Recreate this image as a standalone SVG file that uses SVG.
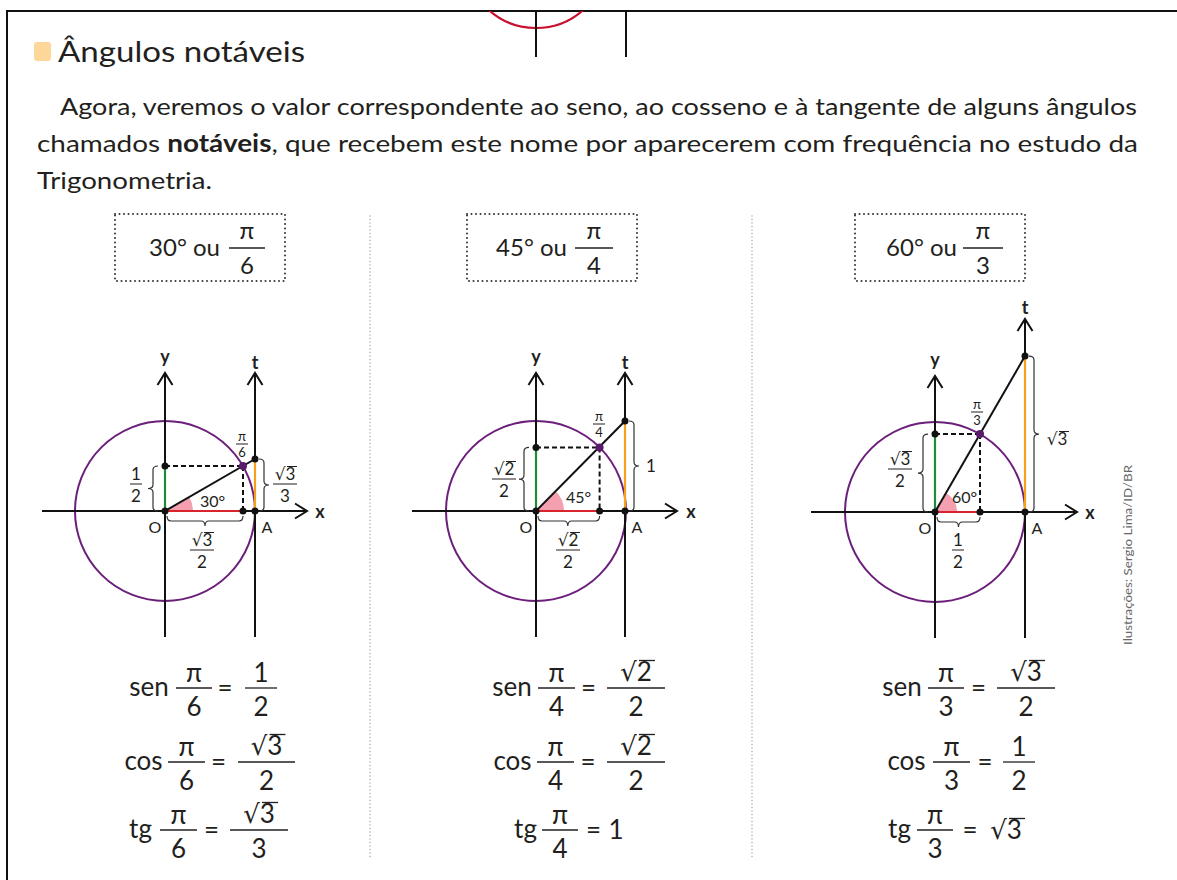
<svg xmlns="http://www.w3.org/2000/svg" width="1177" height="880" viewBox="0 0 1177 880">
<style>
text{font-family:Lato,"Open Sans","DejaVu Sans",sans-serif;fill:#231f20}
.rad{font-family:"DejaVu Sans",sans-serif}
.title{font-size:28px}
.para{font-size:24px}
.box{fill:none;stroke:#333;stroke-width:2;stroke-dasharray:0 4.5;stroke-linecap:round}
.sep{stroke:#aaa;stroke-width:1.5;stroke-dasharray:0 3.5;stroke-linecap:round}
.bt{font-size:24px}
.fm{font-size:26px;text-anchor:middle}
.bar{stroke:#231f20;stroke-width:1.3}
.ax{stroke:#111;stroke-width:2;fill:none}
.circ{fill:none;stroke:#6b1f7b;stroke-width:2}
.dash{stroke:#111;stroke-width:2;stroke-dasharray:5 3}
.dot{fill:#111}
.pdot{fill:#5a1a6a}
.wedge{fill:#f4a0b0}
.sinseg{stroke:#1f8a3b;stroke-width:2.2}
.cosseg{stroke:#d9232d;stroke-width:2.2}
.tanseg{stroke:#f5a11c;stroke-width:2.2}
.brace{fill:none;stroke:#333;stroke-width:1.2}
.lbl{font-size:18px;font-weight:bold;text-anchor:middle}
.pt{font-size:16px;text-anchor:middle}
.sm{font-size:17px;text-anchor:middle}
.pi{font-size:13px;text-anchor:middle}
.ang{font-size:16px}
.sbar{stroke:#231f20;stroke-width:1}
</style>
<defs>
<marker id="arr" markerUnits="userSpaceOnUse" markerWidth="16" markerHeight="18" viewBox="0 0 16 18" refX="14" refY="9" orient="auto">
<path d="M2,1.5 L14,9 L2,16.5" fill="none" stroke="#111" stroke-width="2"/>
</marker>
<clipPath id="topclip"><rect x="0" y="11" width="1177" height="60"/></clipPath>
</defs>

<g id="frame">
<path d="M7,880 V11 H1177" fill="none" stroke="#111" stroke-width="2"/>
<circle cx="536" cy="-43" r="71" fill="none" stroke="#c8102e" stroke-width="2.2" clip-path="url(#topclip)"/>
<line x1="536" y1="11" x2="536" y2="57" stroke="#111" stroke-width="2"/>
<line x1="626" y1="11" x2="626" y2="57" stroke="#111" stroke-width="2"/>
</g>

<g id="header">
<rect x="34" y="42" width="17" height="19" rx="3" fill="#fdd79a"/>
<text class="title" x="58" y="62" textLength="247" lengthAdjust="spacingAndGlyphs">Ângulos notáveis</text>
<text class="para" x="60" y="115" textLength="1077" lengthAdjust="spacingAndGlyphs">Agora, veremos o valor correspondente ao seno, ao cosseno e à tangente de alguns ângulos</text>
<text class="para" x="37" y="152" textLength="1101" lengthAdjust="spacingAndGlyphs">chamados <tspan font-weight="bold">notáveis</tspan>, que recebem este nome por aparecerem com frequência no estudo da</text>
<text class="para" x="37" y="189" textLength="175" lengthAdjust="spacingAndGlyphs">Trigonometria.</text>
</g>

<g id="separators">
<line class="sep" x1="370" y1="216" x2="370" y2="860"/>
<line class="sep" x1="752" y1="216" x2="752" y2="860"/>
</g>

<g id="box-30">
<rect class="box" x="115" y="214" width="170" height="67"/>
<text class="bt" x="220" y="256" text-anchor="end">30° ou</text>
<line class="bar" x1="229" y1="248" x2="265" y2="248"/>
<text class="bt" x="247" y="239" text-anchor="middle">π</text>
<text class="bt" x="247" y="274" text-anchor="middle">6</text>
</g>
<g id="box-45">
<rect class="box" x="467" y="214" width="170" height="67"/>
<text class="bt" x="567" y="256" text-anchor="end">45° ou</text>
<line class="bar" x1="575" y1="248" x2="613" y2="248"/>
<text class="bt" x="594" y="239" text-anchor="middle">π</text>
<text class="bt" x="594" y="274" text-anchor="middle">4</text>
</g>
<g id="box-60">
<rect class="box" x="855" y="214" width="170" height="67"/>
<text class="bt" x="957" y="256" text-anchor="end">60° ou</text>
<line class="bar" x1="963" y1="248" x2="1003" y2="248"/>
<text class="bt" x="983" y="239" text-anchor="middle">π</text>
<text class="bt" x="983" y="274" text-anchor="middle">3</text>
</g>

<g id="diagram-30" transform="translate(165,511)">
<circle class="circ" cx="0" cy="0" r="90"/>
<path class="wedge" d="M0,0 L28,0 A28,28 0 0 0 24.25,-14 Z"/>
<line class="ax" x1="-123" y1="0" x2="142" y2="0" marker-end="url(#arr)"/>
<line class="ax" x1="0" y1="126" x2="0" y2="-138" marker-end="url(#arr)"/>
<line class="ax" x1="90" y1="126" x2="90" y2="-138" marker-end="url(#arr)"/>
<line class="dash" x1="0" y1="-45" x2="78" y2="-45"/>
<line class="dash" x1="78" y1="-45" x2="78" y2="0"/>
<line class="sinseg" x1="0" y1="-45" x2="0" y2="0"/>
<line class="cosseg" x1="0" y1="0" x2="78" y2="0"/>
<line class="tanseg" x1="90" y1="-52" x2="90" y2="0"/>
<line class="ax" x1="0" y1="0" x2="90" y2="-52"/>
<circle class="dot" cx="0" cy="0" r="3.5"/>
<circle class="dot" cx="0" cy="-45" r="3.5"/>
<circle class="dot" cx="78" cy="0" r="3.5"/>
<circle class="dot" cx="90" cy="0" r="3.5"/>
<circle class="dot" cx="90" cy="-52" r="3.5"/>
<circle class="pdot" cx="78" cy="-45" r="4"/>
<path class="brace" d="M-7,-45 Q-12,-45 -12,-41 L-12,-26.5 Q-12,-22.5 -17,-22.5 Q-12,-22.5 -12,-18.5 L-12,-4 Q-12,0 -7,0"/>
<path class="brace" d="M94,-52 Q99,-52 99,-48 L99,-30 Q99,-26 104,-26 Q99,-26 99,-22 L99,-4 Q99,0 94,0"/>
<path class="brace" d="M2,5 Q2,10 6,10 L36,10 Q40,10 40,15 Q40,10 44,10 L74,10 Q78,10 78,5"/>
<text class="lbl" x="0" y="-148">y</text>
<text class="lbl" x="90" y="-142">t</text>
<text class="lbl" x="155" y="7">x</text>
<text class="pt" x="-10" y="22">O</text>
<text class="pt" x="102" y="22">A</text>
<text class="ang" x="35" y="-4">30°</text>
<text class="pi" x="77" y="-70">π</text>
<line class="sbar" x1="71" y1="-67" x2="83" y2="-67"/>
<text class="pi" x="77" y="-54">6</text>
<text class="sm" x="-29" y="-31">1</text>
<line class="sbar" x1="-35" y1="-27" x2="-23" y2="-27"/>
<text class="sm" x="-29" y="-9">2</text>
<text class="sm" x="120" y="-31"><tspan class="rad">√</tspan>3</text>
<line class="sbar" x1="122" y1="-44.5" x2="132" y2="-44.5"/>
<line class="sbar" x1="108" y1="-27" x2="132" y2="-27"/>
<text class="sm" x="120" y="-9">3</text>
<text class="sm" x="37" y="35"><tspan class="rad">√</tspan>3</text>
<line class="sbar" x1="39" y1="21.5" x2="49" y2="21.5"/>
<line class="sbar" x1="25" y1="39" x2="49" y2="39"/>
<text class="sm" x="37" y="57">2</text>
</g>

<g id="diagram-45" transform="translate(536,511)">
<circle class="circ" cx="0" cy="0" r="90"/>
<path class="wedge" d="M0,0 L28,0 A28,28 0 0 0 19.8,-19.8 Z"/>
<line class="ax" x1="-124" y1="0" x2="141" y2="0" marker-end="url(#arr)"/>
<line class="ax" x1="0" y1="126" x2="0" y2="-138" marker-end="url(#arr)"/>
<line class="ax" x1="89" y1="126" x2="89" y2="-138" marker-end="url(#arr)"/>
<line class="dash" x1="0" y1="-63.6" x2="63.6" y2="-63.6"/>
<line class="dash" x1="63.6" y1="-63.6" x2="63.6" y2="0"/>
<line class="sinseg" x1="0" y1="-63.6" x2="0" y2="0"/>
<line class="cosseg" x1="0" y1="0" x2="63.6" y2="0"/>
<line class="tanseg" x1="89" y1="-90" x2="89" y2="0"/>
<line class="ax" x1="0" y1="0" x2="89" y2="-90"/>
<circle class="dot" cx="0" cy="0" r="3.5"/>
<circle class="dot" cx="0" cy="-63.6" r="3.5"/>
<circle class="dot" cx="63.6" cy="0" r="3.5"/>
<circle class="dot" cx="89" cy="0" r="3.5"/>
<circle class="dot" cx="89" cy="-90" r="3.5"/>
<circle class="pdot" cx="63.6" cy="-63.6" r="4"/>
<path class="brace" d="M-7,-63.6 Q-12,-63.6 -12,-59.6 L-12,-35.8 Q-12,-31.8 -17,-31.8 Q-12,-31.8 -12,-27.8 L-12,-4 Q-12,0 -7,0"/>
<path class="brace" d="M93,-90 Q98,-90 98,-86 L98,-49 Q98,-45 103,-45 Q98,-45 98,-41 L98,-4 Q98,0 93,0"/>
<path class="brace" d="M2,5 Q2,10 6,10 L27.8,10 Q31.8,10 31.8,15 Q31.8,10 35.8,10 L59.6,10 Q63.6,10 63.6,5"/>
<text class="lbl" x="0" y="-148">y</text>
<text class="lbl" x="89" y="-142">t</text>
<text class="lbl" x="155" y="7">x</text>
<text class="pt" x="-10" y="22">O</text>
<text class="pt" x="101" y="22">A</text>
<text class="ang" x="30" y="-8">45°</text>
<text class="pi" x="63" y="-90">π</text>
<line class="sbar" x1="57" y1="-87" x2="69" y2="-87"/>
<text class="pi" x="63" y="-74">4</text>
<text class="sm" x="-32" y="-36"><tspan class="rad">√</tspan>2</text>
<line class="sbar" x1="-30" y1="-49.5" x2="-20" y2="-49.5"/>
<line class="sbar" x1="-44" y1="-32" x2="-20" y2="-32"/>
<text class="sm" x="-32" y="-14">2</text>
<text class="sm" x="115" y="-39">1</text>
<text class="sm" x="32" y="35"><tspan class="rad">√</tspan>2</text>
<line class="sbar" x1="34" y1="21.5" x2="44" y2="21.5"/>
<line class="sbar" x1="20" y1="39" x2="44" y2="39"/>
<text class="sm" x="32" y="57">2</text>
</g>

<g id="diagram-60" transform="translate(935,512)">
<circle class="circ" cx="0" cy="0" r="90"/>
<path class="wedge" d="M0,0 L22,0 A22,22 0 0 0 11,-19.05 Z"/>
<line class="ax" x1="-124" y1="0" x2="142" y2="0" marker-end="url(#arr)"/>
<line class="ax" x1="0" y1="126" x2="0" y2="-136" marker-end="url(#arr)"/>
<line class="ax" x1="90" y1="126" x2="90" y2="-193" marker-end="url(#arr)"/>
<line class="dash" x1="0" y1="-77.9" x2="45" y2="-77.9"/>
<line class="dash" x1="45" y1="-77.9" x2="45" y2="0"/>
<line class="sinseg" x1="0" y1="-77.9" x2="0" y2="0"/>
<line class="cosseg" x1="0" y1="0" x2="45" y2="0"/>
<line class="tanseg" x1="90" y1="-155.9" x2="90" y2="0"/>
<line class="ax" x1="0" y1="0" x2="90" y2="-155.9"/>
<circle class="dot" cx="0" cy="0" r="3.5"/>
<circle class="dot" cx="0" cy="-77.9" r="3.5"/>
<circle class="dot" cx="45" cy="0" r="3.5"/>
<circle class="dot" cx="90" cy="0" r="3.5"/>
<circle class="dot" cx="90" cy="-155.9" r="3.5"/>
<circle class="pdot" cx="45" cy="-77.9" r="4"/>
<path class="brace" d="M-7,-77.9 Q-12,-77.9 -12,-73.9 L-12,-42.9 Q-12,-38.9 -17,-38.9 Q-12,-38.9 -12,-34.9 L-12,-4 Q-12,0 -7,0"/>
<path class="brace" d="M94,-155.9 Q99,-155.9 99,-151.9 L99,-81.9 Q99,-77.9 104,-77.9 Q99,-77.9 99,-73.9 L99,-4 Q99,0 94,0"/>
<path class="brace" d="M2,5 Q2,10 6,10 L19.5,10 Q23.5,10 23.5,15 Q23.5,10 27.5,10 L41,10 Q45,10 45,5"/>
<text class="lbl" x="0" y="-146">y</text>
<text class="lbl" x="90" y="-198">t</text>
<text class="lbl" x="155" y="7">x</text>
<text class="pt" x="-10" y="22">O</text>
<text class="pt" x="102" y="22">A</text>
<text class="ang" x="17" y="-9">60°</text>
<text class="pi" x="42" y="-103">π</text>
<line class="sbar" x1="36" y1="-100" x2="48" y2="-100"/>
<text class="pi" x="42" y="-87">3</text>
<text class="sm" x="-35" y="-47"><tspan class="rad">√</tspan>3</text>
<line class="sbar" x1="-33" y1="-60.5" x2="-23" y2="-60.5"/>
<line class="sbar" x1="-47" y1="-43" x2="-23" y2="-43"/>
<text class="sm" x="-35" y="-25">2</text>
<text class="sm" x="122" y="-67"><tspan class="rad">√</tspan>3</text>
<line class="sbar" x1="124" y1="-80.5" x2="134" y2="-80.5"/>
<text class="sm" x="23" y="34">1</text>
<line class="sbar" x1="17" y1="38" x2="29" y2="38"/>
<text class="sm" x="23" y="56">2</text>
</g>

<g id="formulas-30">
<text class="fm" x="149" y="696">sen</text>
<line class="bar" x1="176" y1="688" x2="212" y2="688"/>
<text class="fm" x="194" y="682">π</text>
<text class="fm" x="194" y="716">6</text>
<text class="fm" x="225" y="697">=</text>
<line class="bar" x1="245" y1="688" x2="277" y2="688"/>
<text class="fm" x="261" y="682">1</text>
<text class="fm" x="261" y="716">2</text>

<text class="fm" x="143.5" y="770">cos</text>
<line class="bar" x1="168" y1="762" x2="205" y2="762"/>
<text class="fm" x="186.5" y="756">π</text>
<text class="fm" x="186.5" y="790">6</text>
<text class="fm" x="218.5" y="771">=</text>
<line class="bar" x1="238" y1="762" x2="295" y2="762"/>
<text class="fm" x="266.5" y="755"><tspan class="rad">√</tspan>3</text>
<line class="bar" x1="269.5" y1="734.5" x2="285.5" y2="734.5"/>
<text class="fm" x="266.5" y="790">2</text>

<text class="fm" x="140.5" y="838">tg</text>
<line class="bar" x1="160" y1="830" x2="197" y2="830"/>
<text class="fm" x="178.5" y="824">π</text>
<text class="fm" x="178.5" y="858">6</text>
<text class="fm" x="211.5" y="839">=</text>
<line class="bar" x1="230" y1="830" x2="288" y2="830"/>
<text class="fm" x="259" y="823"><tspan class="rad">√</tspan>3</text>
<line class="bar" x1="262" y1="802.5" x2="278" y2="802.5"/>
<text class="fm" x="259" y="858">3</text>
</g>

<g id="formulas-45">
<text class="fm" x="512" y="696">sen</text>
<line class="bar" x1="538" y1="688" x2="575" y2="688"/>
<text class="fm" x="556.5" y="682">π</text>
<text class="fm" x="556.5" y="716">4</text>
<text class="fm" x="588.5" y="697">=</text>
<line class="bar" x1="607" y1="688" x2="665" y2="688"/>
<text class="fm" x="636" y="681"><tspan class="rad">√</tspan>2</text>
<line class="bar" x1="639" y1="660.5" x2="655" y2="660.5"/>
<text class="fm" x="636" y="716">2</text>

<text class="fm" x="512.5" y="770">cos</text>
<line class="bar" x1="537" y1="762" x2="574" y2="762"/>
<text class="fm" x="555.5" y="756">π</text>
<text class="fm" x="555.5" y="790">4</text>
<text class="fm" x="588" y="771">=</text>
<line class="bar" x1="607" y1="762" x2="665" y2="762"/>
<text class="fm" x="636" y="755"><tspan class="rad">√</tspan>2</text>
<line class="bar" x1="639" y1="734.5" x2="655" y2="734.5"/>
<text class="fm" x="636" y="790">2</text>

<text class="fm" x="525.5" y="838">tg</text>
<line class="bar" x1="542" y1="830" x2="578" y2="830"/>
<text class="fm" x="560" y="824">π</text>
<text class="fm" x="560" y="858">4</text>
<text class="fm" x="593.5" y="839">=</text>
<text class="fm" x="616" y="839">1</text>
</g>

<g id="formulas-60">
<text class="fm" x="902" y="696">sen</text>
<line class="bar" x1="928" y1="688" x2="964" y2="688"/>
<text class="fm" x="946" y="682">π</text>
<text class="fm" x="946" y="716">3</text>
<text class="fm" x="978.5" y="697">=</text>
<line class="bar" x1="997" y1="688" x2="1055" y2="688"/>
<text class="fm" x="1026" y="681"><tspan class="rad">√</tspan>3</text>
<line class="bar" x1="1029" y1="660.5" x2="1045" y2="660.5"/>
<text class="fm" x="1026" y="716">2</text>

<text class="fm" x="906.5" y="770">cos</text>
<line class="bar" x1="933" y1="762" x2="970" y2="762"/>
<text class="fm" x="951.5" y="756">π</text>
<text class="fm" x="951.5" y="790">3</text>
<text class="fm" x="985" y="771">=</text>
<line class="bar" x1="1003" y1="762" x2="1035" y2="762"/>
<text class="fm" x="1019" y="756">1</text>
<text class="fm" x="1019" y="790">2</text>

<text class="fm" x="899.5" y="838">tg</text>
<line class="bar" x1="917" y1="830" x2="953" y2="830"/>
<text class="fm" x="935" y="824">π</text>
<text class="fm" x="935" y="858">3</text>
<text class="fm" x="970" y="839">=</text>
<text class="fm" x="1006" y="839"><tspan class="rad">√</tspan>3</text>
<line class="bar" x1="1009" y1="818.5" x2="1025" y2="818.5"/>
</g>

<text id="credit" x="0" y="0" transform="translate(1132,555) rotate(-90)" text-anchor="middle" font-size="11" style="fill:#666" textLength="180" lengthAdjust="spacingAndGlyphs">Ilustrações: Sergio Lima/ID/BR</text>
</svg>
